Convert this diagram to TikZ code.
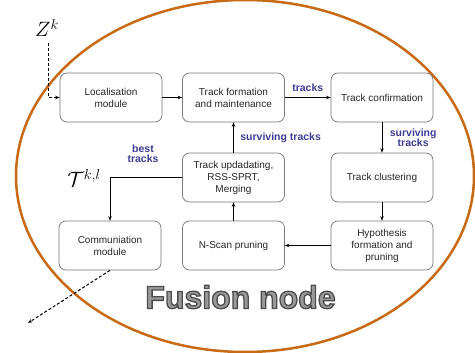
\documentclass[tikz,border=0pt]{standalone}
\usepackage{fontspec}
\setmainfont{Liberation Sans}
\usetikzlibrary{arrows.meta}
\definecolor{ellorange}{RGB}{200,105,20}
\definecolor{lblue}{RGB}{60,60,150}
\definecolor{boxgray}{RGB}{120,120,120}
\tikzset{
  blk/.style={draw=boxgray, line width=0.7pt, rounded corners=7pt, minimum width=102pt, minimum height=49pt, align=center, font=\fontsize{10}{12}\selectfont, text=black!85, fill=white},
  conn/.style={line width=1pt, -{Stealth[length=4.5pt,width=3.5pt]}},
  dconn/.style={line width=1pt, dashed, dash pattern=on 3pt off 2pt, -{Stealth[length=4.5pt,width=3.5pt]}},
  lbl/.style={text=lblue, font=\bfseries\fontsize{10.5}{12}\selectfont, align=center}
}
\newcommand{\outlinetext}[1]{\special{pdf:code 2 Tr 1.3 w 0.3 0.3 0.3 RG 0.6 0.6 0.6 rg}#1\special{pdf:code 0 Tr 0 0 0 RG 0 0 0 rg}}
\begin{document}
\begin{tikzpicture}[x=1pt,y=-1pt]
\useasboundingbox (0,0) rectangle (475,353);
\draw[ellorange, line width=2.5pt] (245,176) ellipse [x radius=229, y radius=176];
% Fusion node text
\node (fusion) [font=\bfseries\fontsize{32}{36}\selectfont] at (240.5,297) {\outlinetext{Fusion node}};
% boxes
\node[blk] (loc) at (111,97.5) {Localisation\\module};
\node[blk] (form) at (233.5,97.5) {Track formation\\and maintenance};
\node[blk] (conf) at (382,97.5) {Track confirmation};
\node[blk] (upd) at (233.5,177.5) {Track updadating,\\RSS-SPRT,\\Merging};
\node[blk] (clus) at (382,177.5) {Track clustering};
\node[blk] (comm) at (110,245.5) {Communiation\\module};
\node[blk] (nscan) at (233.5,245.5) {N-Scan pruning};
\node[blk] (hyp) at (382,245.5) {Hypothesis\\formation and\\pruning};
% math labels
\node (zk) at (47,28) {\fontsize{21}{24}\selectfont $Z^k$};
\node (tkl) at (84,178) {\fontsize{21}{24}\selectfont $\mathcal{T}^{k,l}$};
\coordinate (zstart) at (48,43);
\coordinate (cout) at (28,323);
% connectors
\draw[dconn] (zstart) |- (loc.west);
\draw[conn] (loc) -- (form);
\draw[conn] (form) -- (conf) node[lbl, midway, above=2pt] (l1) {tracks};
\draw[conn] (conf) -- (clus) node[lbl, midway, right=4pt] (l2) {surviving\\[-2pt]tracks};
\draw[conn] (clus) -- (hyp);
\draw[conn] (hyp) -- (nscan);
\draw[conn] (nscan) -- (upd);
\draw[conn] (upd) -- (form) node[lbl, midway, right=3pt] (l3) {surviving tracks};
\draw[conn] (upd.west) -| (comm.north);
\node[lbl] (l4) at (143,154) {best\\[-2pt]tracks};
\draw[dconn] (comm.south) -- (cout);
\end{tikzpicture}
\end{document}
